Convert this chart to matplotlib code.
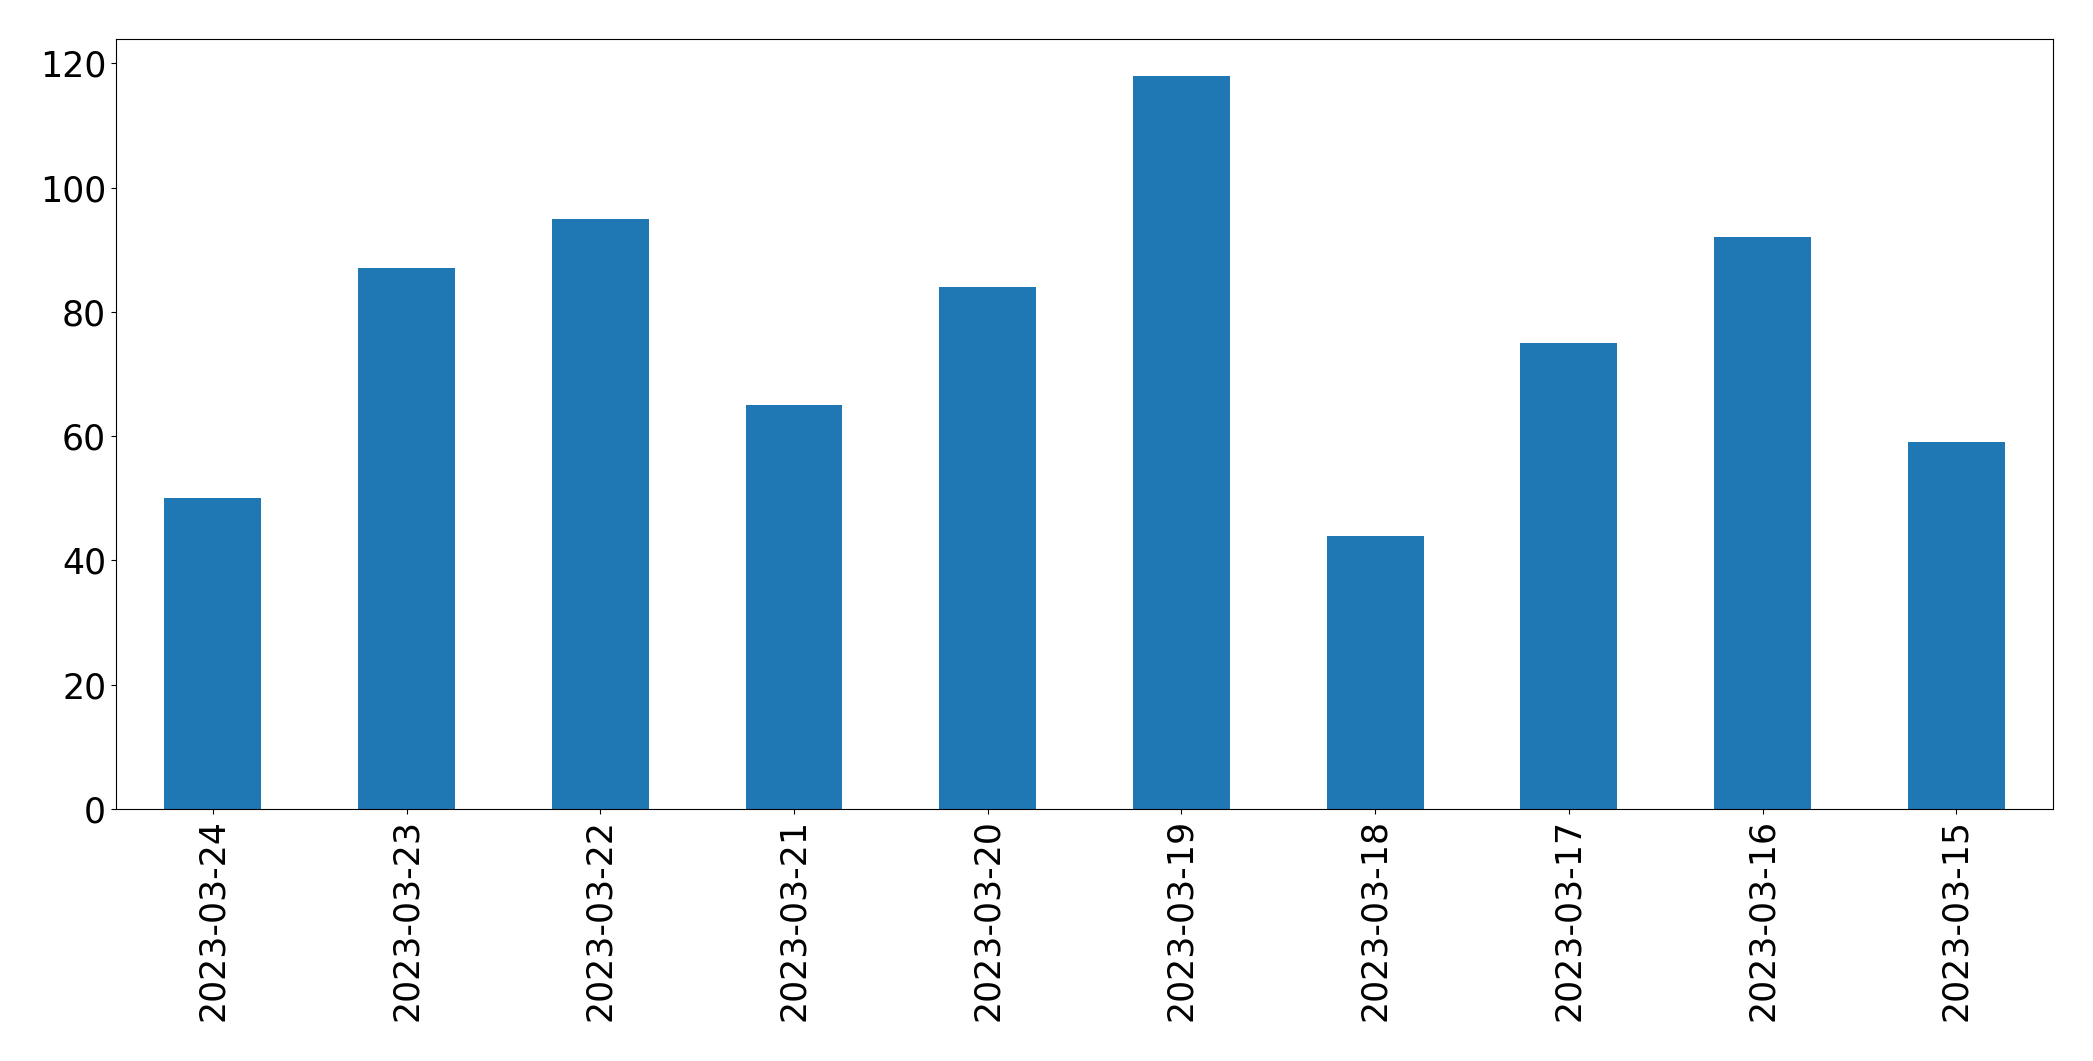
import matplotlib
matplotlib.use("Agg")
import matplotlib.pyplot as plt
import pandas as pd

dates = ["2023-03-24", "2023-03-23", "2023-03-22", "2023-03-21", "2023-03-20",
         "2023-03-19", "2023-03-18", "2023-03-17", "2023-03-16", "2023-03-15"]
counts = [50, 87, 95, 65, 84, 118, 44, 75, 92, 59]

s = pd.Series(counts, index=dates)

fig, ax = plt.subplots(figsize=(20.93, 10.61), dpi=100)
s.plot(kind="bar", ax=ax, color="#1f77b4")
ax.tick_params(axis="both", labelsize=25)
fig.subplots_adjust(left=0.0554, right=0.981, top=0.9632, bottom=0.2375)
fig.savefig("out.png", dpi=100)
